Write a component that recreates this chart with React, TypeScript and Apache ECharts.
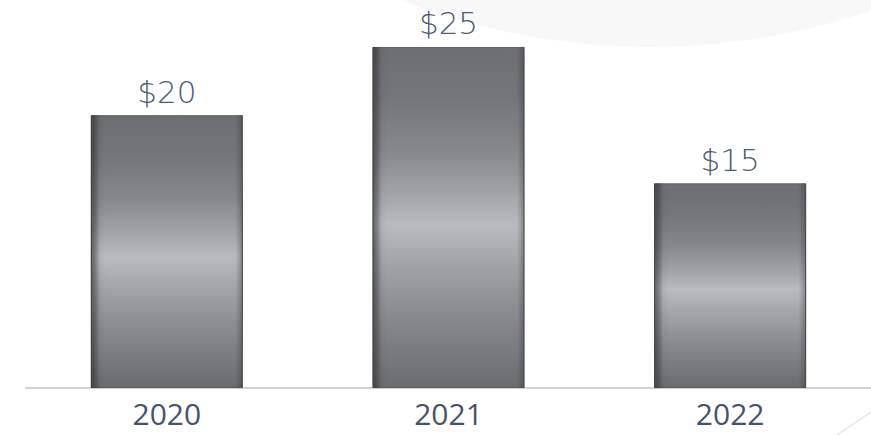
import React, { useEffect, useRef } from "react";
import * as echarts from "echarts";

const categories = ["2020", "2021", "2022"];
const values = [20, 25, 15];
const valueLabels = ["$20", "$25", "$15"];

export default function App() {
  const ref = useRef<HTMLDivElement>(null);
  useEffect(() => {
    if (!ref.current) return;
    document.body.style.margin = "0";
    const chart = echarts.init(ref.current, null, { renderer: "svg" });
    const metal = new echarts.graphic.LinearGradient(0, 0, 0, 1, [
      { offset: 0, color: "#6d6e71" },
      { offset: 0.15, color: "#75767a" },
      { offset: 0.3, color: "#86878a" },
      { offset: 0.42, color: "#9fa1a5" },
      { offset: 0.52, color: "#b8bbbf" },
      { offset: 0.62, color: "#a5a7ab" },
      { offset: 0.78, color: "#8a8b8f" },
      { offset: 0.92, color: "#76777a" },
      { offset: 1, color: "#6a6b6e" },
    ]);
    const edges = new echarts.graphic.LinearGradient(0, 0, 1, 0, [
      { offset: 0, color: "rgba(40,40,44,0.6)" },
      { offset: 0.03, color: "rgba(40,40,44,0.4)" },
      { offset: 0.06, color: "rgba(40,40,44,0.05)" },
      { offset: 0.1, color: "rgba(40,40,44,0)" },
      { offset: 0.95, color: "rgba(40,40,44,0)" },
      { offset: 0.985, color: "rgba(40,40,44,0.25)" },
      { offset: 1, color: "rgba(40,40,44,0.45)" },
    ]);
    chart.setOption({
      animation: false,
      backgroundColor: "#ffffff",
      graphic: [
        {
          type: "circle",
          z: -10,
          silent: true,
          shape: { cx: 650, cy: -641, r: 688 },
          style: { fill: "#f8f8f8" },
        },
        {
          type: "line",
          z: -5,
          silent: true,
          shape: { x1: 837, y1: 435, x2: 871, y2: 412 },
          style: { stroke: "#d9d9d9", lineWidth: 1 },
        },
      ],
      grid: { left: 26, right: 0, top: 6, bottom: 47, containLabel: false },
      xAxis: {
        type: "category",
        data: categories,
        axisLine: { show: true, lineStyle: { color: "#cfcfcf", width: 2 } },
        axisTick: { show: false },
        axisLabel: {
          color: "#44546a",
          fontSize: 30,
          fontFamily: "Open Sans",
          margin: 10,
        },
      },
      yAxis: {
        type: "value",
        min: 0,
        max: 28,
        show: false,
        splitLine: { show: false },
      },
      series: [
        {
          type: "bar",
          data: values,
          barWidth: 152,
          itemStyle: {
            color: metal,
            borderColor: "#5f6063",
            borderWidth: 1,
          },
          label: {
            show: true,
            position: "top",
            distance: 8,
            formatter: (p: any) => valueLabels[p.dataIndex],
            color: "#4c5d74",
            fontSize: 31,
            fontFamily: "DejaVu Sans",
            fontWeight: 300,
          },
          z: 2,
        },
        {
          type: "bar",
          data: values,
          barWidth: 152,
          barGap: "-100%",
          itemStyle: { color: edges },
          silent: true,
          z: 3,
        },
      ],
    });
    return () => chart.dispose();
  }, []);
  return (
    <div
      ref={ref}
      style={{ position: "fixed", left: 0, top: 0, width: 871, height: 435 }}
    />
  );
}
